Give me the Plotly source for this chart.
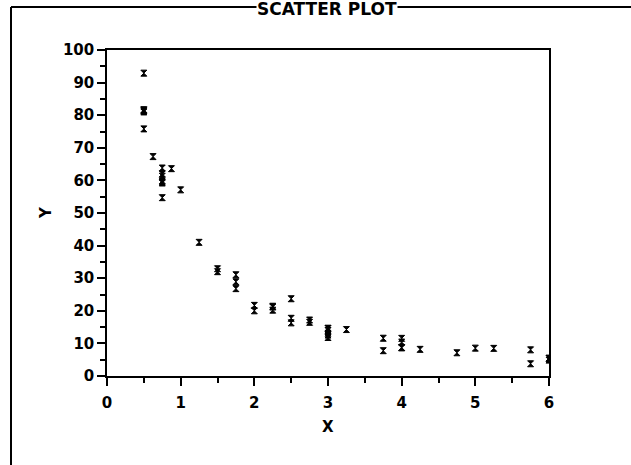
import plotly.graph_objects as go

# Data (ultrasonic calibration style scatter)
x_values = [0.5, 1.0, 1.75, 3.75, 5.75, 0.875, 2.25, 3.25, 5.25, 0.75,
            1.75, 2.75, 4.75, 0.625, 1.25, 2.25, 4.25, 0.5, 3.0, 0.75,
            3.0, 1.5, 6.0, 3.0, 6.0, 1.5, 3.0, 0.5, 2.0, 4.0,
            0.75, 2.0, 5.0, 0.75, 2.25, 3.75, 5.75, 3.0, 0.75, 2.5,
            4.0, 0.75, 2.5, 4.0, 0.75, 2.5, 4.0, 0.5, 6.0, 3.0,
            0.5, 2.75, 0.5, 1.75]
y_values = [92.9, 57.1, 31.05, 11.5875, 8.025, 63.6, 21.4, 14.25, 8.475, 63.8,
            26.8, 16.4625, 7.125, 67.3, 41.0, 21.15, 8.175, 81.5, 13.12, 59.9,
            14.62, 32.9, 5.44, 12.56, 5.44, 32.0, 13.95, 75.8, 20.0, 10.42,
            59.5, 21.67, 8.55, 62.0, 20.2, 7.76, 3.75, 11.81, 54.7, 23.7,
            11.55, 61.3, 17.7, 8.74, 59.2, 16.3, 8.62, 81.0, 4.87, 14.62,
            81.7, 17.17, 81.3, 28.9]

title_text = "SCATTER PLOT"
x_title = "X"
y_title = "Y"
x_ticks = [0, 1, 2, 3, 4, 5, 6]
y_ticks = [0, 10, 20, 30, 40, 50, 60, 70, 80, 90, 100]

W, H = 631, 465
# paper region = outer frame (left edge x=11, top edge y=4)
FL, FT = 11, 4
PW, PH = W - FL, H - FT
# plot area in page pixels
PX0, PX1, PY0, PY1 = 107, 549, 50, 376


def px(p):
    return (p - FL) / PW


def py(p):
    return (H - p) / PH


font_fam = "DejaVu Sans"
bold = dict(family=font_fam, color="black", weight="bold")

fig = go.Figure()
fig.add_trace(go.Scatter(
    x=x_values, y=y_values, mode="markers",
    marker=dict(symbol="hourglass", size=6, color="black",
                line=dict(width=1, color="black")),
    showlegend=False, hoverinfo="x+y",
))

axis_common = dict(
    showline=True, linecolor="black", linewidth=1.5, mirror=True,
    showgrid=False, zeroline=False,
    ticks="outside", ticklen=8, tickwidth=1.5, tickcolor="black",
    tickfont=dict(size=15, **bold),
)

fig.update_layout(
    width=W, height=H,
    margin=dict(l=FL, r=0, t=FT, b=0, autoexpand=False),
    paper_bgcolor="white", plot_bgcolor="white",
    showlegend=False,
    xaxis=dict(range=[0, 6], domain=[px(PX0), px(PX1)],
               tickvals=x_ticks, ticktext=[str(v) for v in x_ticks],
               ticklabelstandoff=4,
               minor=dict(dtick=0.5, ticks="outside", ticklen=5, tickwidth=1.5,
                          tickcolor="black", showgrid=False),
               **axis_common),
    yaxis=dict(range=[0, 100], domain=[py(PY1), py(PY0)],
               tickvals=y_ticks, ticktext=[str(v) for v in y_ticks],
               minor=dict(dtick=5, ticks="outside", ticklen=5, tickwidth=1.5,
                          tickcolor="black", showgrid=False),
               **axis_common),
    annotations=[
        dict(text=title_text, xref="paper", yref="paper",
             x=px(327), y=py(9), xanchor="center", yanchor="middle",
             bgcolor="white", borderpad=0,
             showarrow=False, font=dict(size=17, **bold)),
        dict(text=x_title, xref="paper", yref="paper",
             x=px(328), y=py(427), xanchor="center", yanchor="middle",
             showarrow=False, font=dict(size=15, **bold)),
        dict(text=y_title, xref="paper", yref="paper", textangle=-90,
             x=px(46), y=py(213), xanchor="center", yanchor="middle",
             showarrow=False, font=dict(size=15, **bold)),
    ],
    shapes=[
        dict(type="line", xref="paper", yref="paper",
             x0=0, x1=1.05, y0=py(7), y1=py(7),
             line=dict(color="black", width=2), layer="above"),
        dict(type="line", xref="paper", yref="paper",
             x0=0, x1=0, y0=-0.05, y1=py(7),
             line=dict(color="black", width=2), layer="above"),
    ],
)

fig.write_html("out.html", config={"displayModeBar": False},
               post_script="document.body.style.margin='0';document.body.style.overflow='hidden';")
